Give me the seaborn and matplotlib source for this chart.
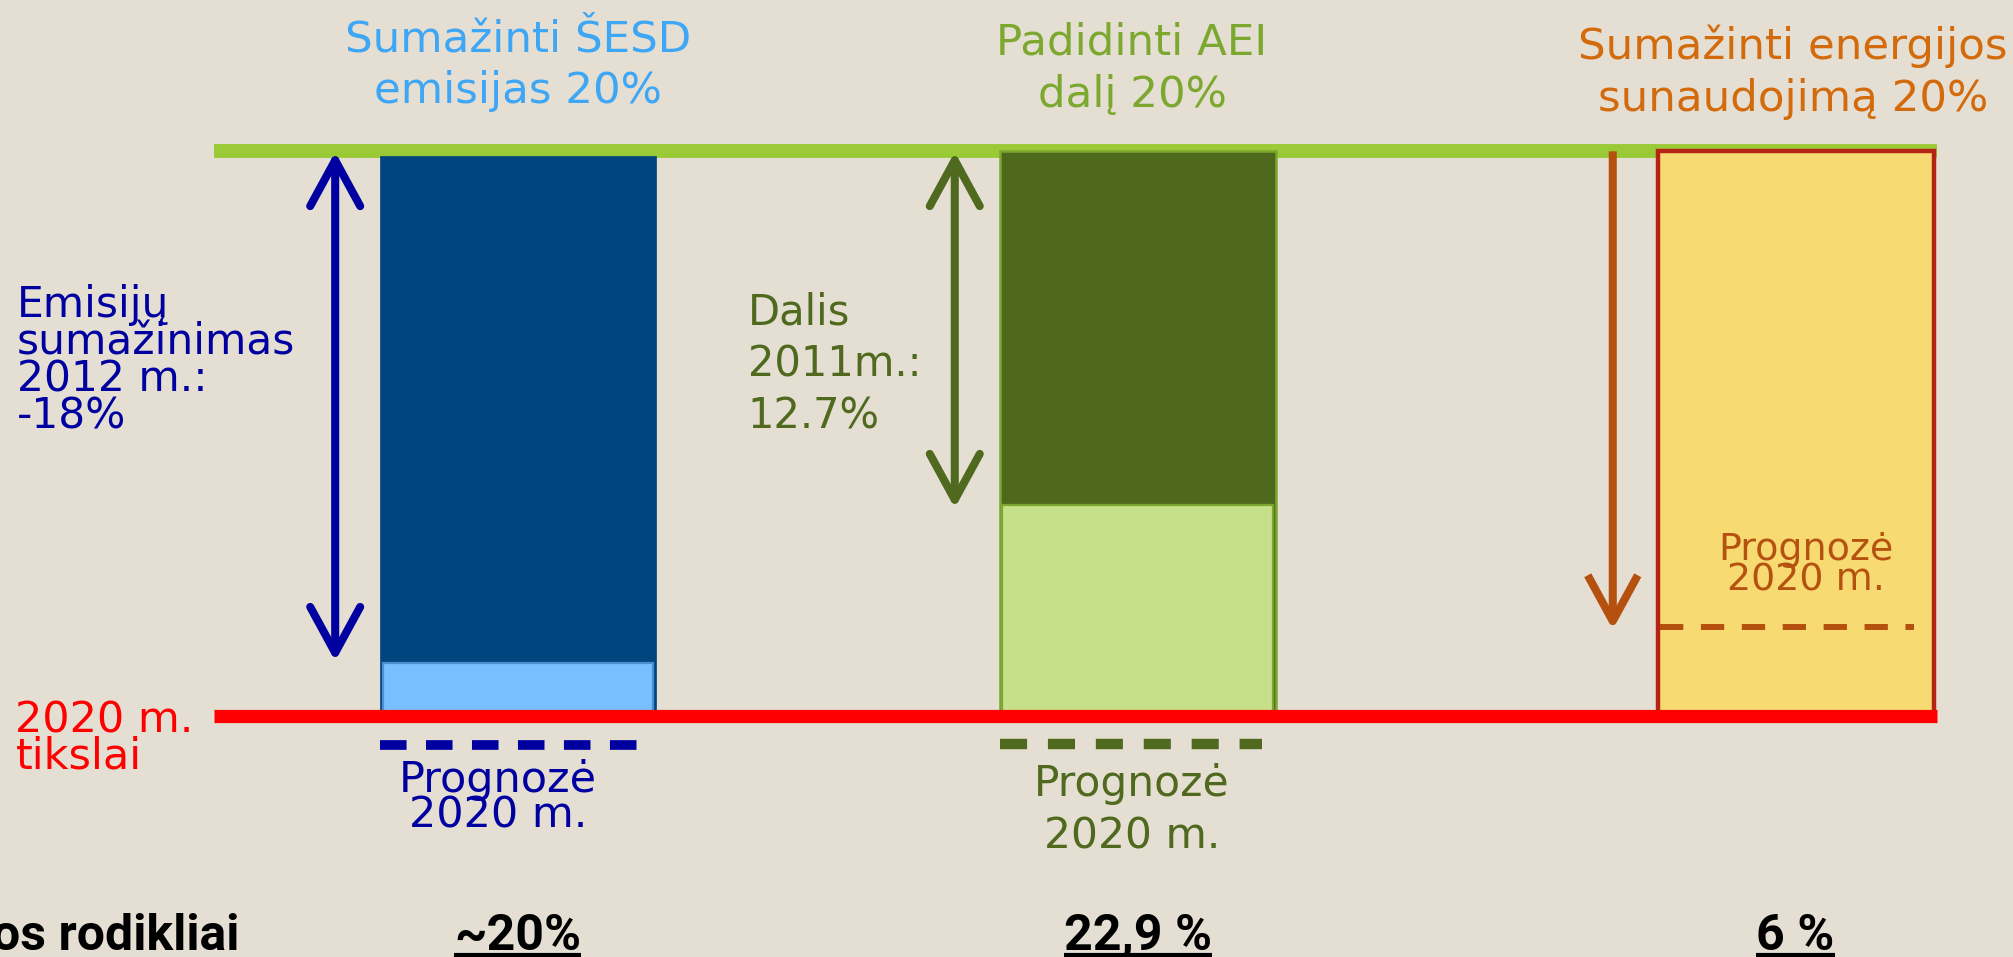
import numpy as np
import pandas as pd
import seaborn as sns
import matplotlib
matplotlib.use("Agg")
import matplotlib.pyplot as plt
from matplotlib.patches import FancyArrowPatch

# ---------------- data ----------------
goals = ["Sumažinti ŠESD\nemisijas 20%", "Padidinti AEI\ndalį 20%",
         "Sumažinti energijos\nsunaudojimą 20%"]
# normalised scale: 0 = 2020 m. tikslas (red line), 1 = starting level (green line)
bar_top = [0.992, 1.0, 1.0]
forecast_fill = [0.093, 0.373, 0.0]          # filled part that remains to 2020 target
forecast_line = [-0.052, -0.050, 0.157]      # dashed forecast line level
arrow_end = [0.097, 0.368, 0.153]            # where progress arrows end
indicators = ["~20%", "22,9 %", "6 %"]
side_notes = ["Emisijų\nsumažinimas\n2012 m.:\n-18%", "Dalis\n2011m.:\n12.7%"]
forecast_label = "Prognozė\n2020 m."
target_label = "2020 m.\ntikslai"
row_label = "os rodikliai"

# ---------------- style ----------------
BG = "#E5DED3"
title_colors = ["#3DA6F5", "#7DA82F", "#D36A0B"]
bar_colors = ["#00457E", "#4F691C", "#F7DA72"]
bar_edges = ["#00457E", "#7BA72F", "#B52314"]
fill_colors = ["#77BFFF", "#C6E08A"]
fill_edges = ["#4A8FD2", "#7BA72F"]
note_colors = ["#0000A0", "#4F6A1E", "#B5520F"]
arrow_colors = ["#0000A0", "#4F6A1E", "#B5500F"]

sns.set_theme(style="white")
plt.rcParams["font.family"] = ["DejaVu Sans"]

fig = plt.figure(figsize=(20.13, 9.57), dpi=100, facecolor=BG)
ax = fig.add_axes([0, 0, 1, 1])
ax.set_facecolor(BG)

xpos = [0.0, 1.0, 2.062]
bw = 0.4455

# green "starting level" line (under bars)
ax.hlines(1.0, -0.491, 2.290, color="#9ACA35", lw=10, zorder=1, capstyle="butt")

# main bars
df = pd.DataFrame({"x": xpos, "y": bar_top, "goal": goals})
sns.barplot(data=df, x="x", y="y", hue="goal", palette=bar_colors,
            native_scale=True, width=bw, dodge=False, legend=False,
            saturation=1, ax=ax, zorder=2)
for p, ec, lw in zip(ax.patches, bar_edges, [0.5, 1.8, 3.2]):
    p.set_edgecolor(ec)
    p.set_linewidth(lw)
n_main = len(ax.patches)

# forecast filled parts
df2 = pd.DataFrame({"x": xpos[:2], "y": forecast_fill[:2], "goal": goals[:2]})
sns.barplot(data=df2, x="x", y="y", hue="goal", palette=fill_colors,
            native_scale=True, width=0.437, dodge=False, legend=False,
            saturation=1, ax=ax, zorder=3)
for p, ec in zip(ax.patches[n_main:], fill_edges):
    p.set_edgecolor(ec)
    p.set_linewidth(1.6)

# red target line
ax.hlines(0.0, -0.491, 2.290, color="#FF0000", lw=9.5, zorder=6, capstyle="butt")

# dashed forecast lines
dash_specs = [((0, (2.73, 2.0)), 7.0, 0.0, 0.975),
              ((0, (2.6, 2.0)), 7.5, 0.0, 0.95),
              ((0, (3.9, 2.95)), 4.3, 0.01, 0.93)]
for x, y, c, (ls, lw, s, e) in zip(xpos, forecast_line, arrow_colors, dash_specs):
    x0 = x - bw / 2 + s * bw
    ax.hlines(y, x0, x - bw / 2 + e * bw, color=c, lw=lw, linestyles=[ls],
              zorder=7, capstyle="butt")

# progress arrows
for i, (x, y1, c) in enumerate(zip(xpos, arrow_end, arrow_colors)):
    ax_x = x - 0.295
    if i < 2:
        arr = FancyArrowPatch((ax_x, 0.999), (ax_x, y1),
                              arrowstyle="<->,head_length=0.55,head_width=0.3",
                              mutation_scale=60, color=c, lw=5.8,
                              capstyle="round", joinstyle="round",
                              shrinkA=0, shrinkB=0, zorder=5)
    else:
        arr = FancyArrowPatch((ax_x, 1.0), (ax_x, y1),
                              arrowstyle="->,head_length=0.55,head_width=0.3",
                              mutation_scale=60, color=c, lw=5.8,
                              capstyle="butt", joinstyle="round",
                              shrinkA=0, shrinkB=0, zorder=5)
    ax.add_patch(arr)

# titles
title_y = [1.152, 1.146, 1.140]
title_x = [0.0, 0.991, 2.058]
for t, x, y, c in zip(goals, title_x, title_y, title_colors):
    ax.text(x, y, t, color=c, fontsize=31.3, ha="center", va="center",
            multialignment="center", linespacing=1.3)

# side notes
ax.text(-0.809, 0.629, side_notes[0], color=note_colors[0], fontsize=30.5,
        ha="left", va="center", linespacing=0.86)
ax.text(0.371, 0.6225, side_notes[1], color=note_colors[1], fontsize=30,
        ha="left", va="center", linespacing=1.3)
ax.text(-0.811, -0.040, target_label, color="#FF0000", fontsize=31,
        ha="left", va="center", linespacing=0.83)

# forecast labels
ax.text(-0.032, -0.145, forecast_label, color=note_colors[0], fontsize=31,
        ha="center", va="center", multialignment="center", linespacing=0.82)
ax.text(0.991, -0.167, forecast_label, color=note_colors[1], fontsize=30.5,
        ha="center", va="center", multialignment="center", linespacing=1.3)
ax.text(2.078, 0.2666, forecast_label, color=note_colors[2], fontsize=27.4,
        ha="center", va="center", multialignment="center", linespacing=0.8)

# bottom indicators
bold_fam = ["Liberation Sans Narrow", "Roboto", "DejaVu Sans"]
base_y = -0.4145
ind_texts = []
for x, s in zip(xpos, indicators):
    t = ax.text(x, base_y, s, color="black", fontsize=36, fontweight="bold",
                family=bold_fam, ha="center", va="baseline")
    ind_texts.append(t)
ax.text(-0.449, base_y, row_label, color="black", fontsize=36, fontweight="bold",
        family=bold_fam, ha="right", va="baseline")

ax.set_xlim(-0.836, 2.413)
ax.set_ylim(-0.427, 1.268)
ax.axis("off")

fig.canvas.draw()
r = fig.canvas.get_renderer()
inv = ax.transData.inverted()
for t in ind_texts:
    bb = t.get_window_extent(r)
    (x0, _), (x1, _) = inv.transform([(bb.x0, bb.y0), (bb.x1, bb.y1)])
    ax.hlines(-0.4243, x0, x1, color="black", lw=3, zorder=8, capstyle="butt")
ax.set_xlim(-0.836, 2.413)
ax.set_ylim(-0.427, 1.268)

fig.savefig("out.png", dpi=100, facecolor=BG)
